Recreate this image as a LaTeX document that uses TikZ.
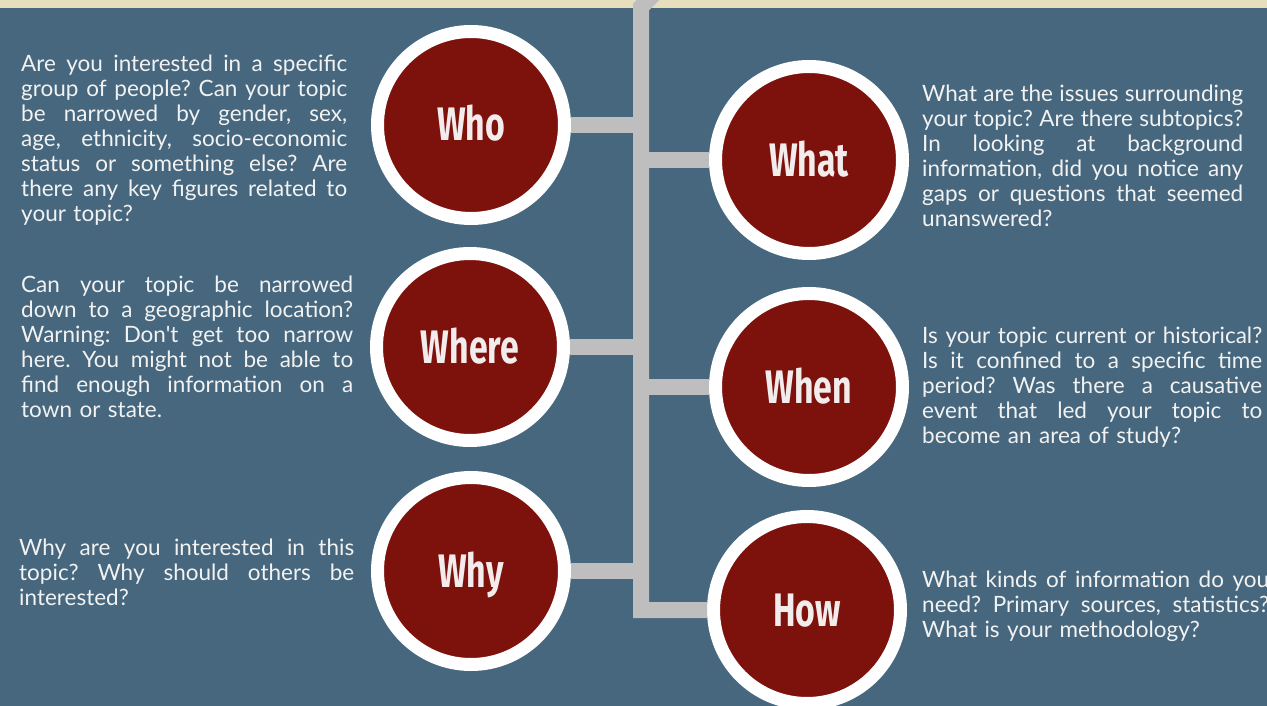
\documentclass[tikz,border=0pt]{standalone}
\usepackage{fontspec}
\setmainfont{Lato}
\newfontfamily\bodyfont{Lato}
\newfontfamily\labelfont[FakeStretch=0.72]{Fira Sans}
\definecolor{bgc}{RGB}{70,103,125}
\definecolor{wred}{RGB}{125,18,12}
\definecolor{connc}{RGB}{190,190,190}
\definecolor{stripc}{RGB}{230,222,188}
\definecolor{txtc}{RGB}{242,242,242}
\definecolor{labc}{RGB}{242,236,236}
\newcommand\jl[2]{\leavevmode\hbox to #1{\spaceskip=0.24em plus 1fil minus 0.06em\xspaceskip=\spaceskip #2}\\}
\newcommand\fh{\rule{0pt}{17pt}}
\begin{document}
\begin{tikzpicture}[x=1pt,y=-1pt,
  bubble/.style={circle, fill=wred, draw=white, line width=13pt, minimum size=187pt,
    inner sep=0pt, outer sep=6.5pt, text=labc, text height=32pt, text depth=0pt,
    font=\labelfont\bfseries\fontsize{47}{47}\selectfont},
  conn/.style={draw=connc, line width=16pt},
  desc/.style={anchor=north west, inner sep=0pt, align=left, text=txtc,
    font=\bodyfont\fontsize{22.5}{25}\selectfont\frenchspacing}]
\useasboundingbox (0,0) rectangle (1267,706);
\clip (0,0) rectangle (1267,706);
\fill[bgc] (0,0) rectangle (1267,706);
\fill[stripc] (0,0) rectangle (1267,8);

% circles
\node[bubble] (who)   at (471,125) {Who};
\node[bubble] (where) at (470,347) {Where};
\node[bubble] (why)   at (471,571) {Why};
\node[bubble] (what)  at (809,160) {What};
\node[bubble] (when)  at (809,387) {When};
\node[bubble] (how)   at (807,610) {How};

% trunk
\coordinate (barkink) at (664,-16);
\coordinate (bartop) at (641,7);
\coordinate (barbot) at (641,610);
\draw[conn, line join=miter] (barkink) -- (bartop) -- (barbot) -- (how.west);
\draw[conn] (who.east) -- (who.east -| bartop);
\draw[conn] (where.east) -- (where.east -| bartop);
\draw[conn] (why.east) -- (why.east -| bartop);
\draw[conn] (what.west -| bartop) -- (what.west);
\draw[conn] (when.west -| bartop) -- (when.west);

% texts
\node[desc, text width=326pt] (twho) at (21,54) {%
\jl{326pt}{\fh Are you interested in a specific}%
\jl{326pt}{group of people? Can your topic}%
\jl{326pt}{be narrowed by gender, sex,}%
\jl{326pt}{age, ethnicity, socio-economic}%
\jl{326pt}{status or something else? Are}%
\jl{326pt}{there any key figures related to}%
your topic?};

\node[desc, text width=332pt] (twhere) at (21,275) {%
\jl{332pt}{\fh Can your topic be narrowed}%
\jl{332pt}{down to a geographic location?}%
\jl{332pt}{Warning: Don't get too narrow}%
\jl{332pt}{here. You might not be able to}%
\jl{332pt}{find enough information on a}%
town or state.};

\node[desc, text width=335pt] (twhy) at (19,538) {%
\jl{335pt}{\fh Why are you interested in this}%
\jl{335pt}{topic? Why should others be}%
interested?};

\node[desc, text width=321pt] (twhat) at (922,84) {%
\jl{321pt}{\fh What are the issues surrounding}%
\jl{321pt}{your topic? Are there subtopics?}%
\jl{321pt}{In looking at background}%
\jl{321pt}{information, did you notice any}%
\jl{321pt}{gaps or questions that seemed}%
unanswered?};

\node[desc, text width=340pt] (twhen) at (922,326) {%
\jl{340pt}{\fh Is your topic current or historical?}%
\jl{340pt}{Is it confined to a specific time}%
\jl{340pt}{period? Was there a causative}%
\jl{340pt}{event that led your topic to}%
become an area of study?};

\node[desc, text width=347pt] (thow) at (922,570) {%
\jl{347pt}{\fh What kinds of information do you}%
\jl{347pt}{need? Primary sources, statistics?}%
What is your methodology?};
\end{tikzpicture}
\end{document}
